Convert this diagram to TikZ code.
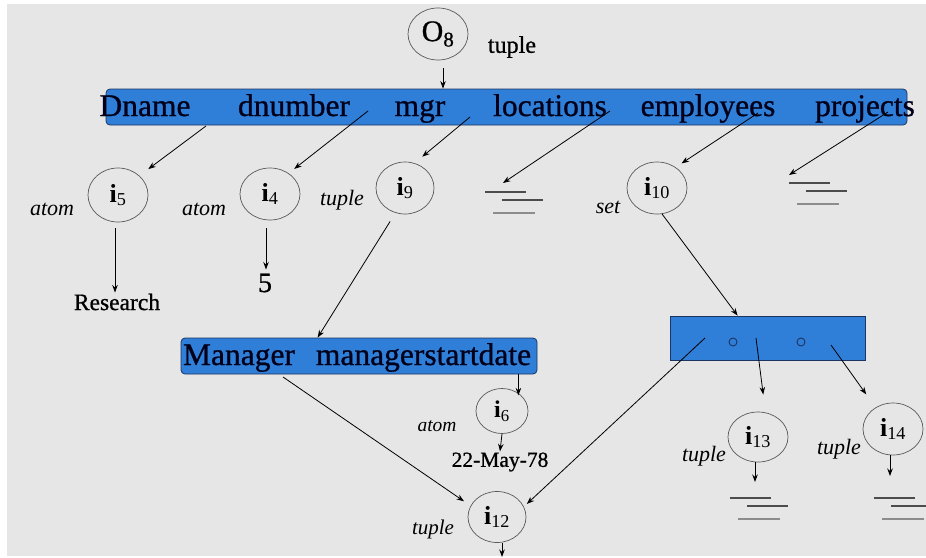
\documentclass[tikz,border=0pt]{standalone}
\usepackage{fontspec}
\setmainfont{Liberation Serif}
\newfontfamily\heavyserif{Liberation Serif}[FakeBold=0.8]
\usetikzlibrary{shapes.geometric,arrows.meta,calc}

\definecolor{bggray}{HTML}{E6E6E6}
\definecolor{barblue}{HTML}{2F7ED8}
\definecolor{barline}{HTML}{1C3560}

% bold object identifier with a subscript number
\newcommand\objlbl[1]{\textbf{i}\textsubscript{#1}}

\tikzset{
  arr/.style={-{Stealth[length=7.5pt,width=5.5pt]}, line width=0.8pt, black},
  obj/.style={ellipse, draw=black!65, line width=0.7pt, inner sep=0pt,
              font=\fontsize{26}{26}\selectfont},
  bar/.style={draw=barline, fill=barblue, line width=0.8pt, rounded corners=4pt},
  setbox/.style={draw=barline, fill=barblue, line width=0.8pt},
  bartext/.style={anchor=base, inner sep=0pt, text=black!90!blue,
                  font=\heavyserif\fontsize{31.5}{32}\selectfont},
  kind/.style={font=\fontsize{22}{23}\selectfont\itshape, inner sep=0pt},
  kindsmall/.style={font=\fontsize{19.5}{20}\selectfont\itshape, inner sep=0pt},
  value/.style={font=\heavyserif\fontsize{23.5}{24}\selectfont, inner sep=1pt},
  dot/.style={circle, draw=barline, line width=0.9pt, minimum size=8pt, inner sep=0pt},
  gnd/.pic={
    \draw[line width=1.2pt, black!70] (0,0) -- (41,0);
    \draw[line width=1.2pt, black!70] (17,8) -- (58,8);
    \draw[line width=1.2pt, black!45] (8,21) -- (50,21);
  }
}

\begin{document}
\begin{tikzpicture}[x=1pt,y=-1pt]
  % page and backdrop
  \fill[white] (0,0) rectangle (926,557);
  \fill[bggray] (7,4) rectangle (926,556);
  \useasboundingbox (0,0) rectangle (926,557);

  % root object
  \node[obj, minimum width=60pt, minimum height=52pt, font=\heavyserif\fontsize{30}{30}\selectfont]
    (O8) at (438,34) {O\textsubscript{8}};
  \node[font=\heavyserif\fontsize{24}{24}\selectfont, inner sep=0pt] (tupO8) at (512,47) {tuple};

  % tuple of attributes
  \node[bar, minimum width=801pt, minimum height=36pt] (topbar) at (506.5,107) {};
  \node[bartext] (wDname) at (145,116) {Dname};
  \node[bartext] (wdnum)  at (294,116) {dnumber};
  \node[bartext] (wmgr)   at (420,116) {mgr};
  \node[bartext] (wloc)   at (550,116) {locations};
  \node[bartext] (wemp)   at (708,116) {employees};
  \node[bartext] (wproj)  at (865,116) {projects};

  \draw[arr] ([xshift=5pt,yshift=-8pt]O8.south) -- ([xshift=5pt]O8.south |- topbar.north);

  % second level objects
  \node[obj, minimum width=60pt, minimum height=54pt] (i5)  at (118,195) {\objlbl{5}};
  \node[obj, minimum width=60pt, minimum height=52pt] (i4)  at (270,194) {\objlbl{4}};
  \node[obj, minimum width=58pt, minimum height=52pt] (i9)  at (405,188) {\objlbl{9}};
  \node[obj, minimum width=60pt, minimum height=52pt] (i10) at (657,188) {\objlbl{10}};

  \node[kind] (k5)  at (52,209)  {atom};
  \node[kind] (k4)  at (204,209) {atom};
  \node[kind] (k9)  at (342,200) {tuple};
  \node[kind] (k10) at (608,207) {set};

  % attribute pointers
  \coordinate (sDn)  at (206,126);
  \coordinate (sdn)  at (368,111);
  \coordinate (smg)  at (470,117);
  \coordinate (slo)  at (610,111);
  \coordinate (sem)  at (758,113);
  \coordinate (spr)  at (888,112);
  \coordinate (tlo)  at (503,183);
  \coordinate (tpr)  at (789,175);

  \draw[arr, shorten >=11pt] (sDn) -- (i5.42);
  \draw[arr, shorten >=7pt]  (sdn) -- (i4.48);
  \draw[arr, shorten >=10pt] (smg) -- (i9.69);
  \draw[arr] (slo) -- (tlo);
  \draw[arr, shorten >=7pt]  (sem) -- (i10.48);
  \draw[arr] (spr) -- (tpr);

  \pic at (485,192) {gnd};
  \pic at (789,183) {gnd};

  % atomic values
  \node[value] (research) at (117,302) {Research};
  \node[value, font=\heavyserif\fontsize{28}{28}\selectfont] (five) at (265,283) {5};
  \draw[arr] ([xshift=-3pt,yshift=-6pt]i5.south) -- ([xshift=-3pt]i5.south |- research.north);
  \draw[arr] ([xshift=-4pt,yshift=-8pt]i4.south) -- ([xshift=-4pt,yshift=3pt]i4.south |- five.north);

  % manager tuple
  \node[bar, minimum width=356pt, minimum height=36pt] (mgrbar) at (359,356) {};
  \node[bartext] (wManager) at (239,365) {Manager};
  \node[bartext] (wmsd)     at (423.5,365) {managerstartdate};
  \draw[arr, shorten <=10pt] (i9.249) -- ([xshift=137pt]mgrbar.north west);

  \node[obj, minimum width=52pt, minimum height=45pt, font=\fontsize{24}{24}\selectfont] (i6) at (502,411) {\objlbl{6}};
  \node[kindsmall] (k6) at (437,426) {atom};
  \draw[arr] ([xshift=-19pt]mgrbar.south east) -- ++(0,21);
  \node[value, font=\heavyserif\fontsize{21.5}{22}\selectfont] (date) at (500,462) {22-May-78};
  \draw[arr] (i6.south) -- (date.north);

  \node[obj, minimum width=58pt, minimum height=51pt] (i12) at (497,517) {\objlbl{12}};
  \node[kind, font=\fontsize{21}{22}\selectfont\itshape] (k12) at (433,529) {tuple};
  \coordinate (o12) at (502,557);
  \draw[arr] ([xshift=5pt]i12.south) -- (o12);

  \coordinate (sMg) at (283,377);
  \draw[arr, shorten >=8pt] (sMg) -- (i12.157);

  % employee set
  \node[setbox, minimum width=195pt, minimum height=44pt] (setbox) at (767.5,338) {};
  \node[dot] (d1) at (733,342) {};
  \node[dot] (d2) at (801,342) {};
  \draw[arr] (i10.281) -- ([xshift=68pt]setbox.north west);

  \coordinate (sS12) at (705,338);
  \coordinate (sS13) at (756,338);
  \coordinate (sS14) at (831,345);

  \node[obj, minimum width=60pt, minimum height=50pt] (i13) at (758,437) {\objlbl{13}};
  \node[obj, minimum width=60pt, minimum height=52pt] (i14) at (893,429) {\objlbl{14}};
  \node[kind] (k13) at (704,456) {tuple};
  \node[kind] (k14) at (839,449) {tuple};

  \draw[arr, shorten >=4pt]  (sS12) -- (i12.21);
  \draw[arr, shorten >=18pt] (sS13) -- (i13.73);
  \draw[arr, shorten >=16pt] (sS14) -- (i14.129);

  \coordinate (t13) at (755,482);
  \coordinate (t14) at (890,476);
  \draw[arr] (i13.south -| t13) -- (t13);
  \draw[arr] (i14.south -| t14) -- (t14);
  \pic at (730,498) {gnd};
  \pic at (874,498) {gnd};
\end{tikzpicture}
\end{document}
